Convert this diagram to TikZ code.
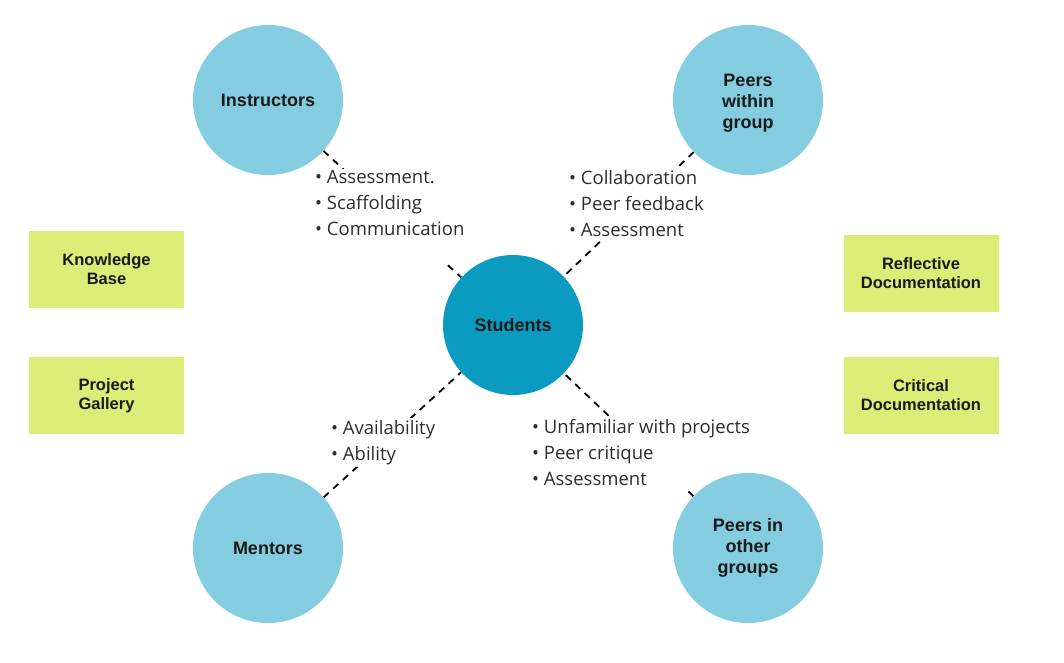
\documentclass[tikz,border=0pt]{standalone}
\usepackage{fontspec}
\setmainfont{Open Sans}
\newfontfamily\boldsans{Liberation Sans}
\usetikzlibrary{backgrounds}
\definecolor{lightblue}{RGB}{132,205,224}
\definecolor{darkblue}{RGB}{12,155,192}
\definecolor{limegreen}{RGB}{220,236,118}
\definecolor{txt}{RGB}{26,26,26}
\definecolor{labtxt}{RGB}{45,45,45}
\tikzset{
  circ/.style={circle, fill=lightblue, minimum size=150pt, inner sep=0pt, align=center, text=txt,
    font=\boldsans\bfseries\fontsize{18}{21}\selectfont},
  studc/.style={circ, fill=darkblue, minimum size=140pt},
  greenbox/.style={rectangle, fill=limegreen, minimum width=155pt, minimum height=77pt, inner sep=0pt,
    align=center, text=txt, font=\boldsans\bfseries\fontsize{16.5}{19}\selectfont},
  lab/.style={fill=white, align=left, anchor=north west, inner sep=2pt, text=labtxt,
    font=\fontsize{18.5}{26}\selectfont},
  conn/.style={draw=black, line width=1.8pt, dash pattern=on 7pt off 6pt}
}
\begin{document}
\begin{tikzpicture}[x=1pt, y=-1pt]
\useasboundingbox (0,0) rectangle (1064,662);
% circles
\node[circ] (instr) at (268,100) {Instructors};
\node[circ] (peersin) at (748,100) {\\[-3pt]Peers\\within\\group};
\node[studc] (stud) at (513,325) {Students};
\node[circ] (mentors) at (268,548) {Mentors};
\node[circ] (peersout) at (748,548) {Peers in\\other\\groups};
% boxes
\node[greenbox] (kb) at (106.5,269) {Knowledge\\Base};
\node[greenbox] (pg) at (106.5,395.5) {Project\\Gallery};
\node[greenbox] (rd) at (921,273.5) {Reflective\\Documentation};
\node[greenbox] (cd) at (921,395.5) {Critical\\Documentation};
\begin{pgfonlayer}{background}
\draw[conn] (instr) -- (stud);
\draw[conn] (peersin) -- (stud);
\draw[conn] (mentors) -- (stud);
\draw[conn] (peersout) -- (stud);
\node[lab] (l1) at (313,168.5) {• Assessment.\\• Scaffolding\\• Communication\\\mbox{}};
\node[lab] (l2) at (567,168.5) {• Collaboration\\• Peer feedback\\• Assessment};
\node[lab] (l3) at (329,418) {• Availability\\• Ability};
\node[lab] (l4) at (530,417) {• Unfamiliar with projects\\• Peer critique\\• Assessment};
\end{pgfonlayer}
\end{tikzpicture}
\end{document}
